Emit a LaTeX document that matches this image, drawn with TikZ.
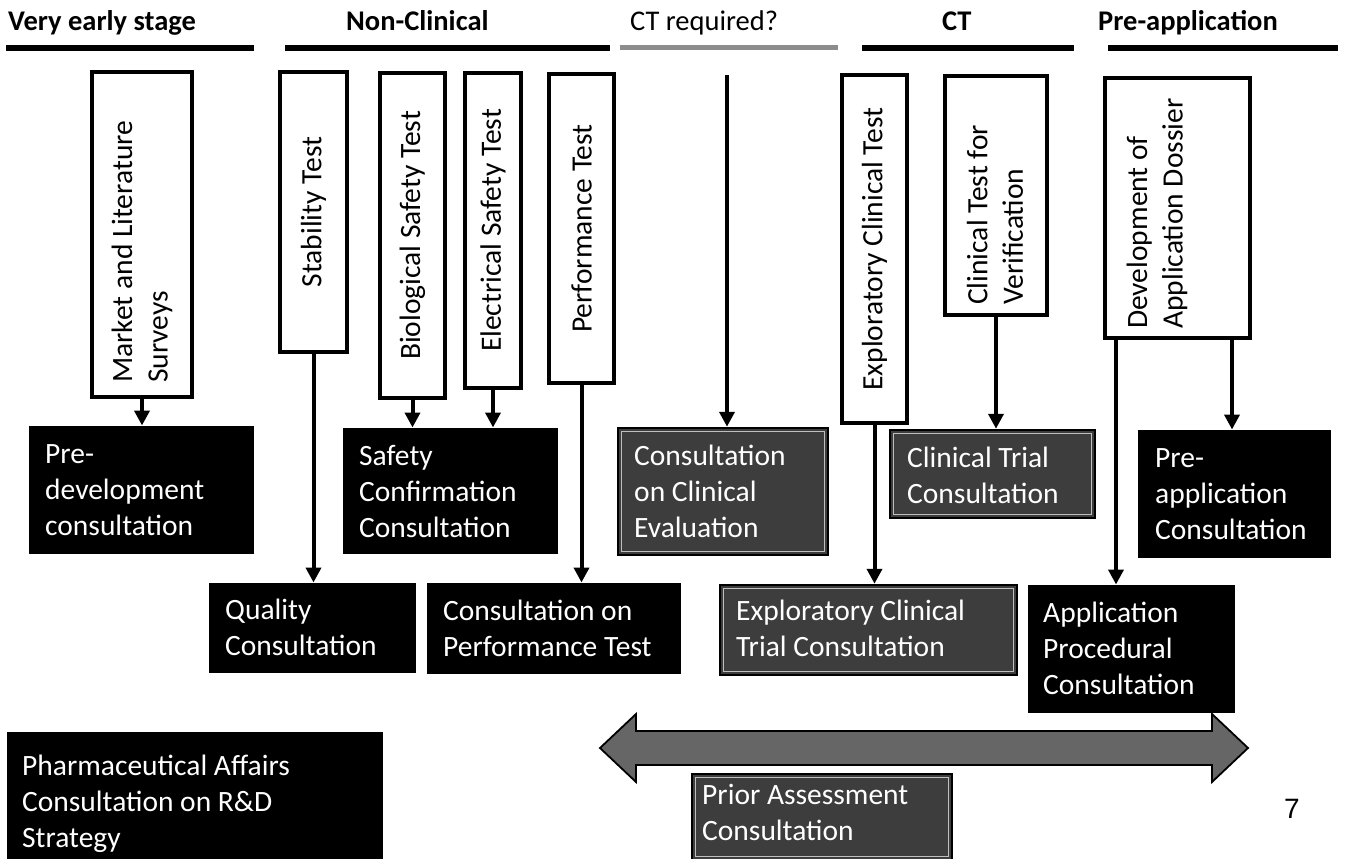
\documentclass[tikz,border=0pt]{standalone}
\usepackage{fontspec}
\setmainfont{Carlito}
\newfontfamily\pagenumfont{Liberation Sans}
\usetikzlibrary{arrows.meta,calc}

\definecolor{panelgray}{gray}{0.24}
\definecolor{panelline}{gray}{0.75}
\definecolor{arrowgray}{gray}{0.40}
\definecolor{bargray}{gray}{0.55}

\begin{document}
\begin{tikzpicture}[x=1pt,y=-1pt,
  headtext/.style={font=\fontsize{28.5}{34}\selectfont\bfseries, anchor=base west, inner sep=0},
  headplain/.style={font=\fontsize{28.5}{34}\selectfont, anchor=base west, inner sep=0},
  stagebar/.style={fill=black},
  testbox/.style={draw=black, line width=4pt, fill=white, inner sep=0, rectangle},
  vtext/.style={rotate=90, font=\fontsize{29.5}{35.5}\selectfont, align=left, inner sep=0},
  consult/.style={fill=black, draw=black, line width=1pt, inner sep=0, rectangle},
  greyconsult/.style={fill=panelgray, draw=black, line width=2.5pt, inner sep=0, rectangle},
  innerrule/.style={draw=panelline, line width=0.9pt},
  ctext/.style={font=\fontsize{29.5}{36}\selectfont, text=white, align=left, anchor=north west, inner sep=0},
  conn/.style={line width=4pt, -{Triangle[width=15pt,length=15pt]}}
]
\useasboundingbox[fill=white] (0,0) rectangle (1349,859);

% ---- stage headings and their bars ----
\node[headtext] (hves) at (8,31) {Very early stage};
\node[headtext] (hnc) at (346,31) {Non-Clinical};
\node[headplain] (hctq) at (630,31) {CT required?};
\node[headtext] (hct) at (942,31) {CT};
\node[headtext] (hpa) at (1098,31) {Pre-application};

\fill[stagebar] (6,45) rectangle (254,51);
\fill[stagebar] (285,45) rectangle (610,51);
\fill[bargray] (620,45) rectangle (838,50);
\fill[stagebar] (862,45) rectangle (1074,51);
\fill[stagebar] (1108,45) rectangle (1338,51);

% ---- activities (vertical boxes) ----
\node[testbox, minimum width=100, minimum height=325] (mkt) at (142,234.5) {};
\node[vtext, anchor=west] (mkttx) at (142,383) {Market and Literature\\Surveys};

\node[testbox, minimum width=67, minimum height=280] (stab) at (313.5,212) {};
\node[vtext] (stabtx) at (stab.center) {Stability Test};

\node[testbox, minimum width=65, minimum height=325] (bio) at (412.5,235.5) {};
\node[vtext] (biotx) at (bio.center) {Biological Safety Test};

\node[testbox, minimum width=56, minimum height=315] (elec) at (493,230.5) {};
\node[vtext] (electx) at (elec.center) {Electrical Safety Test};

\node[testbox, minimum width=65, minimum height=309] (perf) at (581.5,228.5) {};
\node[vtext] (perftx) at (perf.center) {Performance Test};

\coordinate (ctq) at (727,75);

\node[testbox, minimum width=65, minimum height=348] (expl) at (874.5,249) {};
\node[vtext] (expltx) at (expl.center) {Exploratory Clinical Test};

\node[testbox, minimum width=102, minimum height=239] (ver) at (996,195.5) {};
\node[vtext, anchor=west] (vertx) at (995,305) {Clinical Test for\\Verification};

\node[testbox, minimum width=145, minimum height=260] (dev) at (1177.5,208) {};
\node[vtext, anchor=west] (devtx) at (1157,329) {Development of\\Application Dossier};

% ---- consultations ----
\node[consult, minimum width=224, minimum height=127] (predev) at (141,489.5) {};
\node[ctext] (predevtx) at (45,438) {\strut Pre-\\development\\consultation};

\node[consult, minimum width=214, minimum height=125] (safety) at (450,490.5) {};
\node[ctext] (safetytx) at (359,440) {\strut Safety\\Confirmation\\Consultation};

\node[greyconsult, minimum width=210, minimum height=127] (ceval) at (723,491.5) {};
\node[ctext] (cevaltx) at (634,440) {\strut Consultation\\on Clinical\\Evaluation};

\node[greyconsult, minimum width=205, minimum height=88] (ctrial) at (992.5,474) {};
\node[ctext] (ctrialtx) at (907,442) {\strut Clinical Trial\\Consultation};

\node[consult, minimum width=192, minimum height=127] (preapp) at (1234,493.5) {};
\node[ctext] (preapptx) at (1155,442) {\strut Pre-\\application\\Consultation};

\node[consult, minimum width=206, minimum height=89] (qual) at (312,627.5) {};
\node[ctext] (qualtx) at (225,594) {\strut Quality\\Consultation};

\node[consult, minimum width=253, minimum height=90] (perfc) at (553.5,628) {};
\node[ctext] (perfctx) at (443,595) {\strut Consultation on\\Performance Test};

\node[greyconsult, minimum width=297, minimum height=90] (explc) at (868.5,630) {};
\node[ctext] (explctx) at (736,595) {\strut Exploratory Clinical\\Trial Consultation};

\node[consult, minimum width=206, minimum height=127] (appproc) at (1131,648.5) {};
\node[ctext] (appproctx) at (1043,597) {\strut Application\\Procedural\\Consultation};

\node[consult, minimum width=375, minimum height=128] (pharma) at (194.5,796) {};
\node[ctext] (pharmatx) at (22,750) {\strut Pharmaceutical Affairs\\Consultation on R\&D\\Strategy};

\node[greyconsult, minimum width=260, minimum height=86] (prior) at (822,817) {};
\node[ctext] (priortx) at (702,779) {\strut Prior Assessment\\Consultation};

% thin light frame inside the grey panels
\foreach \p in {ceval,ctrial,explc,prior}
  \draw[innerrule] ($(\p.north west)+(4.5,4.5)$) rectangle ($(\p.south east)+(-4.5,-4.5)$);

% ---- span of prior assessment ----
\filldraw[fill=arrowgray, draw=black, line width=1.8pt, line join=miter]
  (600,748) -- (636,714) -- (636,731) -- (1212,731) -- (1212,714) -- (1248,748)
  -- (1212,782) -- (1212,765) -- (636,765) -- (636,782) -- cycle;

% ---- connectors ----
\draw[conn] (mkt.south) -- (mkt.south |- predev.north);
\draw[conn] (stab.south) -- (stab.south |- qual.north);
\draw[conn] (bio.south) -- (bio.south |- safety.north);
\draw[conn] (elec.south) -- (elec.south |- safety.north);
\draw[conn] (perf.south) -- (perf.south |- perfc.north);
\draw[conn] (ctq) -- (ctq |- ceval.north);
\draw[conn] (expl.south) -- (expl.south |- explc.north);
\draw[conn] (ver.south) -- (ver.south |- ctrial.north);
\coordinate (devl) at ($(dev.south west)+(13,0)$);
\coordinate (devr) at ($(dev.south east)+(-20,0)$);
\draw[conn] (devl) -- (devl |- appproc.north);
\draw[conn] (devr) -- (devr |- preapp.north);

% ---- page number ----
\node[font=\pagenumfont\fontsize{28}{30}\selectfont, anchor=base west, inner sep=0] (pagenum) at (1284,818) {7};
\end{tikzpicture}
\end{document}
